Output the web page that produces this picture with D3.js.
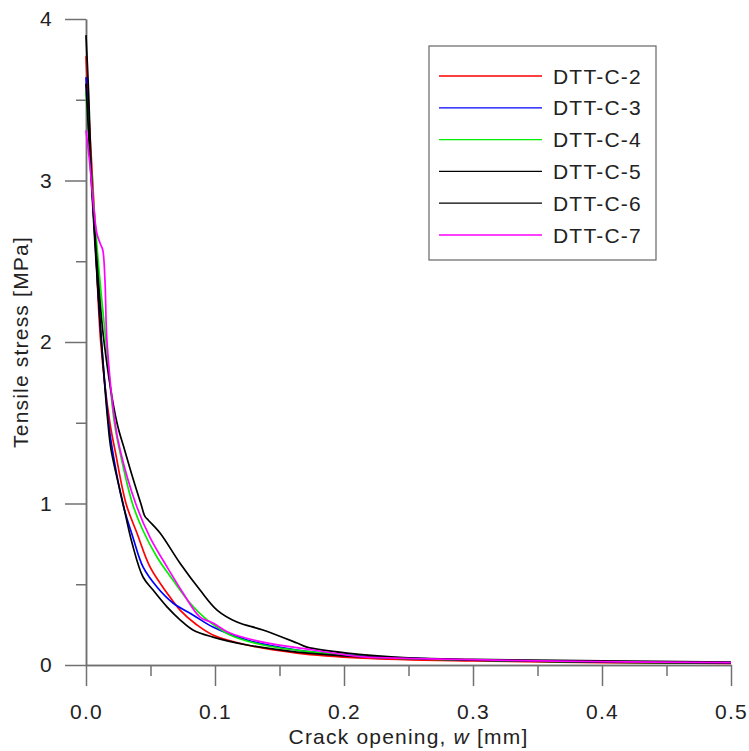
<!DOCTYPE html>
<html>
<head>
<meta charset="utf-8">
<script src="https://cdn.jsdelivr.net/npm/d3@7"></script>
<style>
  body { margin: 0; background: #fff; }
  text { font-family: "Liberation Sans", Arial, sans-serif; fill: #222; letter-spacing: 1.2px; }
</style>
</head>
<body>
<svg id="chart"></svg>
<script>
// specimen names and line colours
const names = ["DTT-C-2", "DTT-C-3", "DTT-C-4", "DTT-C-5", "DTT-C-6", "DTT-C-7"];
const colors = ["#ff0000", "#0000ff", "#00ee00", "#000000", "#000000", "#ff00ff"];

// [crack opening w (mm), tensile stress (MPa)]
const dttC2 = [[0,3.77],[0.003,3.3],[0.0065,2.8],[0.0114,2.0],[0.0185,1.5],[0.0225,1.33],[0.031,1.0],[0.0395,0.817],[0.0496,0.607],[0.0628,0.446],[0.0729,0.34],[0.086,0.248],[0.0984,0.186],[0.1248,0.124],[0.1636,0.074],[0.2147,0.043],[0.3,0.025],[0.4,0.015],[0.5,0.01]];
const dttC3 = [[0,3.64],[0.003,3.2],[0.008,2.5],[0.012,2.0],[0.0175,1.5],[0.0205,1.33],[0.0285,1.0],[0.0364,0.79],[0.0442,0.607],[0.055,0.483],[0.0674,0.384],[0.0829,0.31],[0.0984,0.235],[0.1248,0.155],[0.1636,0.093],[0.2023,0.062],[0.28,0.035],[0.4,0.02],[0.5,0.015]];
const dttC4 = [[0,3.55],[0.003,3.2],[0.0055,2.9],[0.010,2.45],[0.0155,2.0],[0.022,1.5],[0.026,1.33],[0.036,1.0],[0.044,0.836],[0.055,0.669],[0.0674,0.526],[0.0806,0.384],[0.0938,0.279],[0.1016,0.235],[0.1116,0.186],[0.1372,0.124],[0.176,0.08],[0.2279,0.045],[0.3,0.03],[0.4,0.018],[0.5,0.012]];
const dttC5 = [[0,3.9],[0.002,3.55],[0.0044,3.0],[0.008,2.55],[0.014,2.0],[0.024,1.5],[0.030,1.33],[0.0366,1.15],[0.0425,1.0],[0.0457,0.92],[0.0485,0.895],[0.0574,0.817],[0.0729,0.63],[0.0884,0.464],[0.1016,0.34],[0.117,0.266],[0.1372,0.217],[0.1636,0.136],[0.1713,0.111],[0.2023,0.074],[0.2535,0.043],[0.3,0.035],[0.4,0.025],[0.5,0.018]];
const dttC6 = [[0,3.6],[0.003,3.15],[0.007,2.6],[0.012,2.0],[0.017,1.5],[0.0195,1.33],[0.0287,1.0],[0.0357,0.755],[0.0442,0.545],[0.052,0.464],[0.0628,0.36],[0.0729,0.28],[0.0829,0.217],[0.0984,0.173],[0.1248,0.124],[0.1636,0.08],[0.2147,0.05],[0.3,0.03],[0.4,0.018],[0.5,0.012]];
const dttC7 = [[0,3.31],[0.003,3.1],[0.0054,2.88],[0.0085,2.67],[0.011,2.61],[0.013,2.57],[0.0147,2.38],[0.0163,2.0],[0.0225,1.5],[0.0265,1.33],[0.0385,1.0],[0.0496,0.79],[0.0628,0.607],[0.0752,0.446],[0.0884,0.297],[0.0984,0.26],[0.1116,0.198],[0.1372,0.142],[0.176,0.093],[0.2147,0.05],[0.2535,0.04],[0.35,0.025],[0.5,0.015]];

const series = [dttC2, dttC3, dttC4, dttC5, dttC6, dttC7];

const xTicks = [0, 0.1, 0.2, 0.3, 0.4, 0.5];
const xMinor = [0.05, 0.15, 0.25, 0.35, 0.45];
const yTicks = [0, 1, 2, 3, 4];
const yMinor = [0.5, 1.5, 2.5, 3.5];

const width = 749;
const height = 751;
const margin = { top: 19, left: 86, bottom: 86, right: 18 };
const iwidth = width - margin.left - margin.right;
const iheight = height - margin.top - margin.bottom;

const svg = d3.select("#chart").attr("width", width).attr("height", height);
const g = svg.append("g").attr("transform", `translate(${margin.left},${margin.top})`);

const x = d3.scaleLinear().domain([0, 0.5]).range([0, iwidth]);
const y = d3.scaleLinear().domain([0, 4]).range([iheight, 0]);

const axisColor = "#707070";

// minor ticks first, then major axes on top
g.append("g")
  .attr("transform", `translate(0,${iheight})`)
  .call(d3.axisBottom(x).tickValues(xMinor).tickSize(11).tickSizeOuter(0).tickFormat(""));
g.append("g")
  .call(d3.axisLeft(y).tickValues(yMinor).tickSize(10).tickSizeOuter(0).tickFormat(""));

g.append("g")
  .attr("transform", `translate(0,${iheight})`)
  .call(d3.axisBottom(x).tickValues(xTicks).tickSize(21).tickSizeOuter(0)
    .tickPadding(18).tickFormat(d3.format(".1f")));
g.append("g")
  .call(d3.axisLeft(y).tickValues(yTicks).tickSize(21).tickSizeOuter(0)
    .tickPadding(12).tickFormat(d3.format("d")));

g.selectAll(".domain, .tick line").attr("stroke", axisColor).attr("stroke-width", 1.5);
g.selectAll(".tick text").attr("font-size", 21).attr("fill", "#222")
  .attr("font-family", "'Liberation Sans', Arial, sans-serif");

// curves
const line = d3.line()
  .x((d) => x(d[0]))
  .y((d) => y(d[1]))
  .curve(d3.curveCatmullRom.alpha(0.5));

g.selectAll(".curve")
  .data(series)
  .enter()
  .append("path")
  .attr("class", "curve")
  .attr("fill", "none")
  .attr("stroke", (d, i) => colors[i])
  .attr("stroke-width", 1.7)
  .attr("stroke-linejoin", "round")
  .attr("d", line);

// axis titles
svg.append("text")
  .attr("x", margin.left + iwidth / 2)
  .attr("y", 744)
  .attr("text-anchor", "middle")
  .attr("font-size", 21)
  .call((t) => {
    t.append("tspan").text("Crack opening, ");
    t.append("tspan").attr("font-style", "italic").text("w");
    t.append("tspan").text(" [mm]");
  });

svg.append("text")
  .attr("transform", `translate(28,${margin.top + iheight / 2}) rotate(-90)`)
  .attr("text-anchor", "middle")
  .attr("font-size", 21)
  .text("Tensile stress [MPa]");

// legend
const legend = svg.append("g").attr("transform", "translate(429,46)");
legend.append("rect")
  .attr("width", 227).attr("height", 214)
  .attr("fill", "#fff").attr("stroke", "#666").attr("stroke-width", 1.2);

const rows = legend.selectAll(".row")
  .data(names)
  .enter()
  .append("g")
  .attr("class", "row")
  .attr("transform", (d, i) => `translate(0,${30 + i * 31.8})`);

rows.append("line")
  .attr("x1", 10).attr("x2", 113)
  .attr("stroke", (d, i) => colors[i])
  .attr("stroke-width", 1.3);

rows.append("text")
  .attr("x", 124).attr("y", 7.5)
  .attr("font-size", 21)
  .text((d) => d);
</script>
</body>
</html>
